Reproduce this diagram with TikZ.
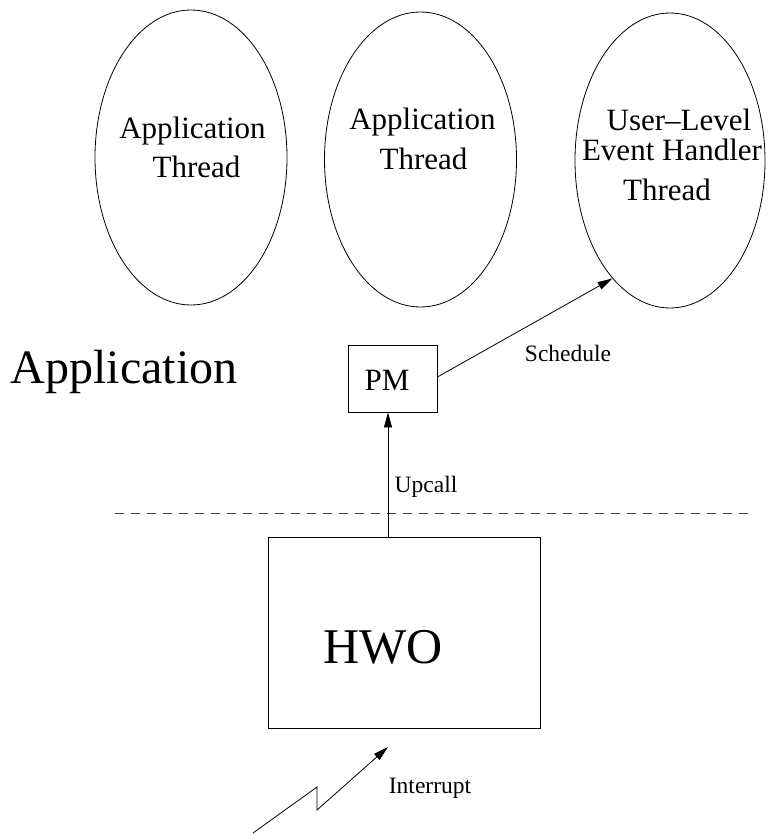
\documentclass[tikz,border=0pt]{standalone}
\usepackage{fontspec}
\setmainfont{Liberation Serif}
\usetikzlibrary{shapes.geometric,arrows.meta}
\begin{document}
\begin{tikzpicture}[x=1pt,y=-1pt,
  thread/.style={draw, ellipse, line width=0.8pt, minimum width=192pt, minimum height=295pt, inner sep=0pt},
  boxnode/.style={draw, rectangle, line width=0.8pt, inner sep=0pt},
  arr/.style={-{Triangle[length=15pt,width=8pt]}, line width=0.8pt},
  mid/.style={font=\fontsize{31}{31}\selectfont, anchor=base, inner sep=0pt},
  huge/.style={font=\fontsize{48}{48}\selectfont, anchor=base, inner sep=0pt},
  small/.style={font=\fontsize{23.5}{23.5}\selectfont, anchor=base, inner sep=0pt},
  sep/.style={line width=0.8pt, dash pattern=on 9pt off 7pt, black!75},
]
\fill[white] (0,0) rectangle (768,835);
\useasboundingbox (0,0) rectangle (768,835);

% threads
\node[thread] (e1) at (191,157.5) {};
\node[thread] (e2) at (420.5,159.5) {};
\node[thread, minimum width=190pt] (e3) at (670,160.5) {};

\node[mid] (t1a) at (192.5,138) {Application};
\node[mid] (t1b) at (196.5,177) {Thread};
\node[mid] (t2a) at (422.5,129) {Application};
\node[mid] (t2b) at (423.5,169) {Thread};
\node[mid] (t3a) at (679,130) {User–Level};
\node[mid] (t3b) at (672,160) {Event Handler};
\node[mid] (t3c) at (667,200) {Thread};

% application label
\node[huge] (applbl) at (124,383) {Application};

% PM
\node[boxnode, minimum width=89pt, minimum height=67pt] (pm) at (392.5,378.5) {};
\node[mid] (pmlbl) at (387,390) {PM};

% schedule
\draw[arr] (pm.east |- 437,377) -- (e3.244);
\node[small] (schedlbl) at (568,361) {Schedule};

% separator
\coordinate (d0) at (115,513);
\coordinate (d1) at (750,513);
\draw[sep] (d0) -- (d1);

% HWO
\node[boxnode, minimum width=272pt, minimum height=191pt] (hwo) at (404,632.5) {};
\node[huge, font=\fontsize{50}{50}\selectfont] (hwolbl) at (383,663) {HWO};

% upcall
\coordinate (up0) at (388,537);
\draw[arr] (up0) -- (up0 |- pm.south);
\node[small] (uplbl) at (426,492) {Upcall};

% interrupt
\coordinate (z0) at (253,833);
\coordinate (z1) at (317,787);
\coordinate (z2) at (317,810);
\coordinate (z3) at (388,747);
\draw[arr] (z0) -- (z1) -- (z2) -- (z3);
\node[small] (intlbl) at (430,793) {Interrupt};
\end{tikzpicture}
\end{document}
